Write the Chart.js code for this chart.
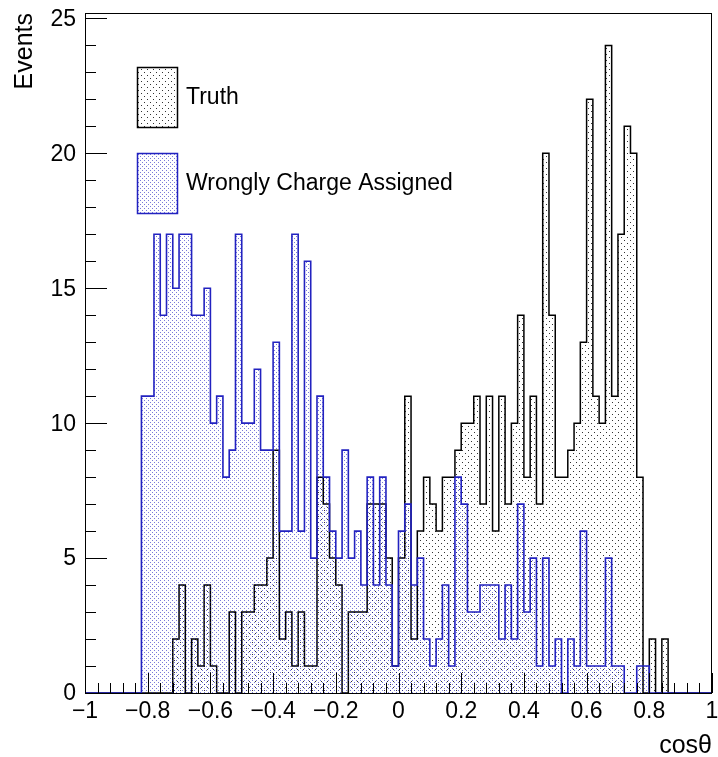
<!DOCTYPE html>
<html>
<head>
<meta charset="utf-8">
<script src="https://cdn.jsdelivr.net/npm/chart.js@4.4.1/dist/chart.umd.min.js"></script>
<style>
  html, body { margin: 0; padding: 0; background: #fff; }
  canvas { display: block; }
</style>
</head>
<body>
<canvas id="histChart" width="718" height="757"></canvas>
<script>
// histogram binning: 100 bins over cos(theta) in [-1, 1]
const nBins = 100;
const xMin = -1;
const xMax = 1;

// counts per bin, bin i covers [xMin + i*w, xMin + (i+1)*w]
const truthCounts = [
  0, 0, 0, 0, 0, 0, 0, 0, 0, 0,
  0, 0, 0, 0, 0, 2, 4, 0, 2, 1,
  4, 1, 0, 0, 3, 0, 3, 3, 4, 4,
  5, 9, 2, 3, 1, 3, 1, 1, 8, 7,
  5, 4, 0, 3, 3, 3, 7, 7, 7, 5,
  1, 5, 11, 2, 6, 8, 7, 6, 8, 8,
  9, 10, 10, 11, 7, 11, 6, 11, 7, 10,
  14, 8, 11, 7, 20, 14, 8, 8, 9, 10,
  13, 22, 11, 10, 24, 11, 17, 21, 20, 8,
  0, 2, 0, 2, 0, 0, 0, 0, 0, 0
];
const wrongCounts = [
  0, 0, 0, 0, 0, 0, 0, 0, 0, 0,
  11, 11, 17, 14, 17, 15, 17, 17, 14, 14,
  15, 10, 11, 8, 9, 17, 10, 10, 12, 9,
  9, 13, 6, 6, 17, 6, 16, 5, 11, 8,
  6, 5, 9, 5, 6, 4, 8, 4, 8, 4,
  1, 6, 7, 4, 5, 2, 1, 2, 4, 1,
  8, 7, 3, 3, 4, 4, 4, 2, 4, 2,
  7, 3, 5, 1, 5, 1, 2, 0, 2, 1,
  6, 1, 1, 1, 5, 1, 1, 0, 0, 1,
  1, 0, 0, 0, 0, 0, 0, 0, 0, 0
];

const seriesLabels = ['Truth', 'Wrongly Charge Assigned'];
const xTicks = [-1, -0.8, -0.6, -0.4, -0.2, 0, 0.2, 0.4, 0.6, 0.8, 1];
const yTicks = [0, 5, 10, 15, 20, 25];
const yMax = 25.2;
const xTitle = 'cos\u03b8';
const yTitle = 'Events';

const blue = '#2222c0';
const black = '#000000';
const font = '"Liberation Sans", Arial, Helvetica, sans-serif';

const canvas = document.getElementById('histChart');
const ctx = canvas.getContext('2d');

function dotPattern(color, cell) {
  const c = document.createElement('canvas');
  c.width = cell;
  c.height = cell;
  const g = c.getContext('2d');
  g.fillStyle = color;
  g.fillRect(0, 0, 1, 1);
  g.fillRect(cell / 2, cell / 2, 1, 1);
  return ctx.createPattern(c, 'repeat');
}

// step outline: one point per bin low edge, closing at xMax
function toSteps(counts) {
  const w = (xMax - xMin) / nBins;
  const pts = counts.map((c, i) => ({ x: xMin + i * w, y: c }));
  pts.push({ x: xMax, y: 0 });
  return pts;
}

function fmtTick(v) {
  const r = Math.round(v * 10) / 10;
  return String(r).replace('-', '\u2212');
}

const truthFill = dotPattern('rgba(0,0,0,0.8)', 6);
const wrongFill = dotPattern('rgba(34,34,192,0.6)', 4);

// ROOT-like frame, inward ticks, tick labels and axis titles
const rootAxes = {
  id: 'rootAxes',
  afterDatasetsDraw(chart) {
    const { ctx, chartArea: a, scales: { x, y } } = chart;
    ctx.save();
    ctx.strokeStyle = '#000';
    ctx.lineWidth = 1;
    ctx.strokeRect(a.left + 0.5, a.top + 0.5, a.right - a.left - 1, a.bottom - a.top);

    ctx.beginPath();
    for (let v = 0; v <= 25; v++) {
      const py = Math.round(y.getPixelForValue(v)) + 0.5;
      const len = v % 5 === 0 ? 22 : 11;
      ctx.moveTo(a.left, py);
      ctx.lineTo(a.left + len, py);
    }
    for (let k = 0; k <= 50; k++) {
      const v = xMin + k * 0.04;
      const px = Math.round(x.getPixelForValue(v)) + 0.5;
      const len = k % 5 === 0 ? 20 : 10;
      ctx.moveTo(px, a.bottom);
      ctx.lineTo(px, a.bottom - len);
    }
    ctx.stroke();

    ctx.fillStyle = '#000';
    ctx.font = '23px ' + font;
    ctx.textAlign = 'right';
    ctx.textBaseline = 'middle';
    yTicks.forEach(v => {
      ctx.fillText(String(v), a.left - 9, y.getPixelForValue(v) + 1);
    });
    ctx.textAlign = 'center';
    ctx.textBaseline = 'top';
    xTicks.forEach(v => {
      ctx.fillText(fmtTick(v), x.getPixelForValue(v), a.bottom + 7);
    });

    ctx.font = '25px ' + font;
    ctx.textAlign = 'right';
    ctx.textBaseline = 'alphabetic';
    ctx.fillText(xTitle, a.right, 753);

    ctx.translate(32, a.top);
    ctx.rotate(-Math.PI / 2);
    ctx.textAlign = 'right';
    ctx.textBaseline = 'alphabetic';
    ctx.fillText(yTitle, 0, 0);
    ctx.restore();
  }
};

// legend drawn inside the frame, ROOT TLegend style
const rootLegend = {
  id: 'rootLegend',
  afterDraw(chart) {
    const { ctx } = chart;
    const entries = [chart.data.datasets[1], chart.data.datasets[0]];
    ctx.save();
    ctx.font = '23px ' + font;
    ctx.textAlign = 'left';
    ctx.textBaseline = 'middle';
    entries.forEach((ds, i) => {
      const top = 67 + i * 86;
      ctx.fillStyle = '#fff';
      ctx.fillRect(137, top, 40, 60);
      ctx.fillStyle = ds.backgroundColor;
      ctx.fillRect(137, top, 40, 60);
      ctx.strokeStyle = ds.borderColor;
      ctx.lineWidth = 1.5;
      ctx.strokeRect(137.5, top + 0.5, 40, 60);
      ctx.fillStyle = '#000';
      ctx.fillText(ds.label, 186, top + 31);
    });
    ctx.restore();
  }
};

new Chart(ctx, {
  type: 'line',
  data: {
    datasets: [
      {
        label: seriesLabels[1],
        data: toSteps(wrongCounts),
        borderColor: blue,
        backgroundColor: wrongFill,
        borderWidth: 1.6,
        fill: 'origin',
        stepped: 'after',
        pointRadius: 0,
        clip: false,
        order: 0,
      },
      {
        label: seriesLabels[0],
        data: toSteps(truthCounts),
        borderColor: black,
        backgroundColor: truthFill,
        borderWidth: 1.5,
        fill: 'origin',
        stepped: 'after',
        pointRadius: 0,
        clip: false,
        order: 1,
      },
    ],
  },
  options: {
    responsive: false,
    animation: false,
    layout: { padding: { top: 13, right: 6, left: 0, bottom: 0 } },
    plugins: {
      legend: { display: false },
      tooltip: { enabled: false },
    },
    scales: {
      x: {
        type: 'linear',
        min: xMin,
        max: xMax,
        grid: { display: false },
        border: { display: false },
        ticks: { display: false },
        afterFit(s) { s.height = 64; },
      },
      y: {
        min: 0,
        max: yMax,
        grid: { display: false },
        border: { display: false },
        ticks: { display: false },
        afterFit(s) { s.width = 85; },
      },
    },
  },
  plugins: [rootAxes, rootLegend],
});
</script>
</body>
</html>
